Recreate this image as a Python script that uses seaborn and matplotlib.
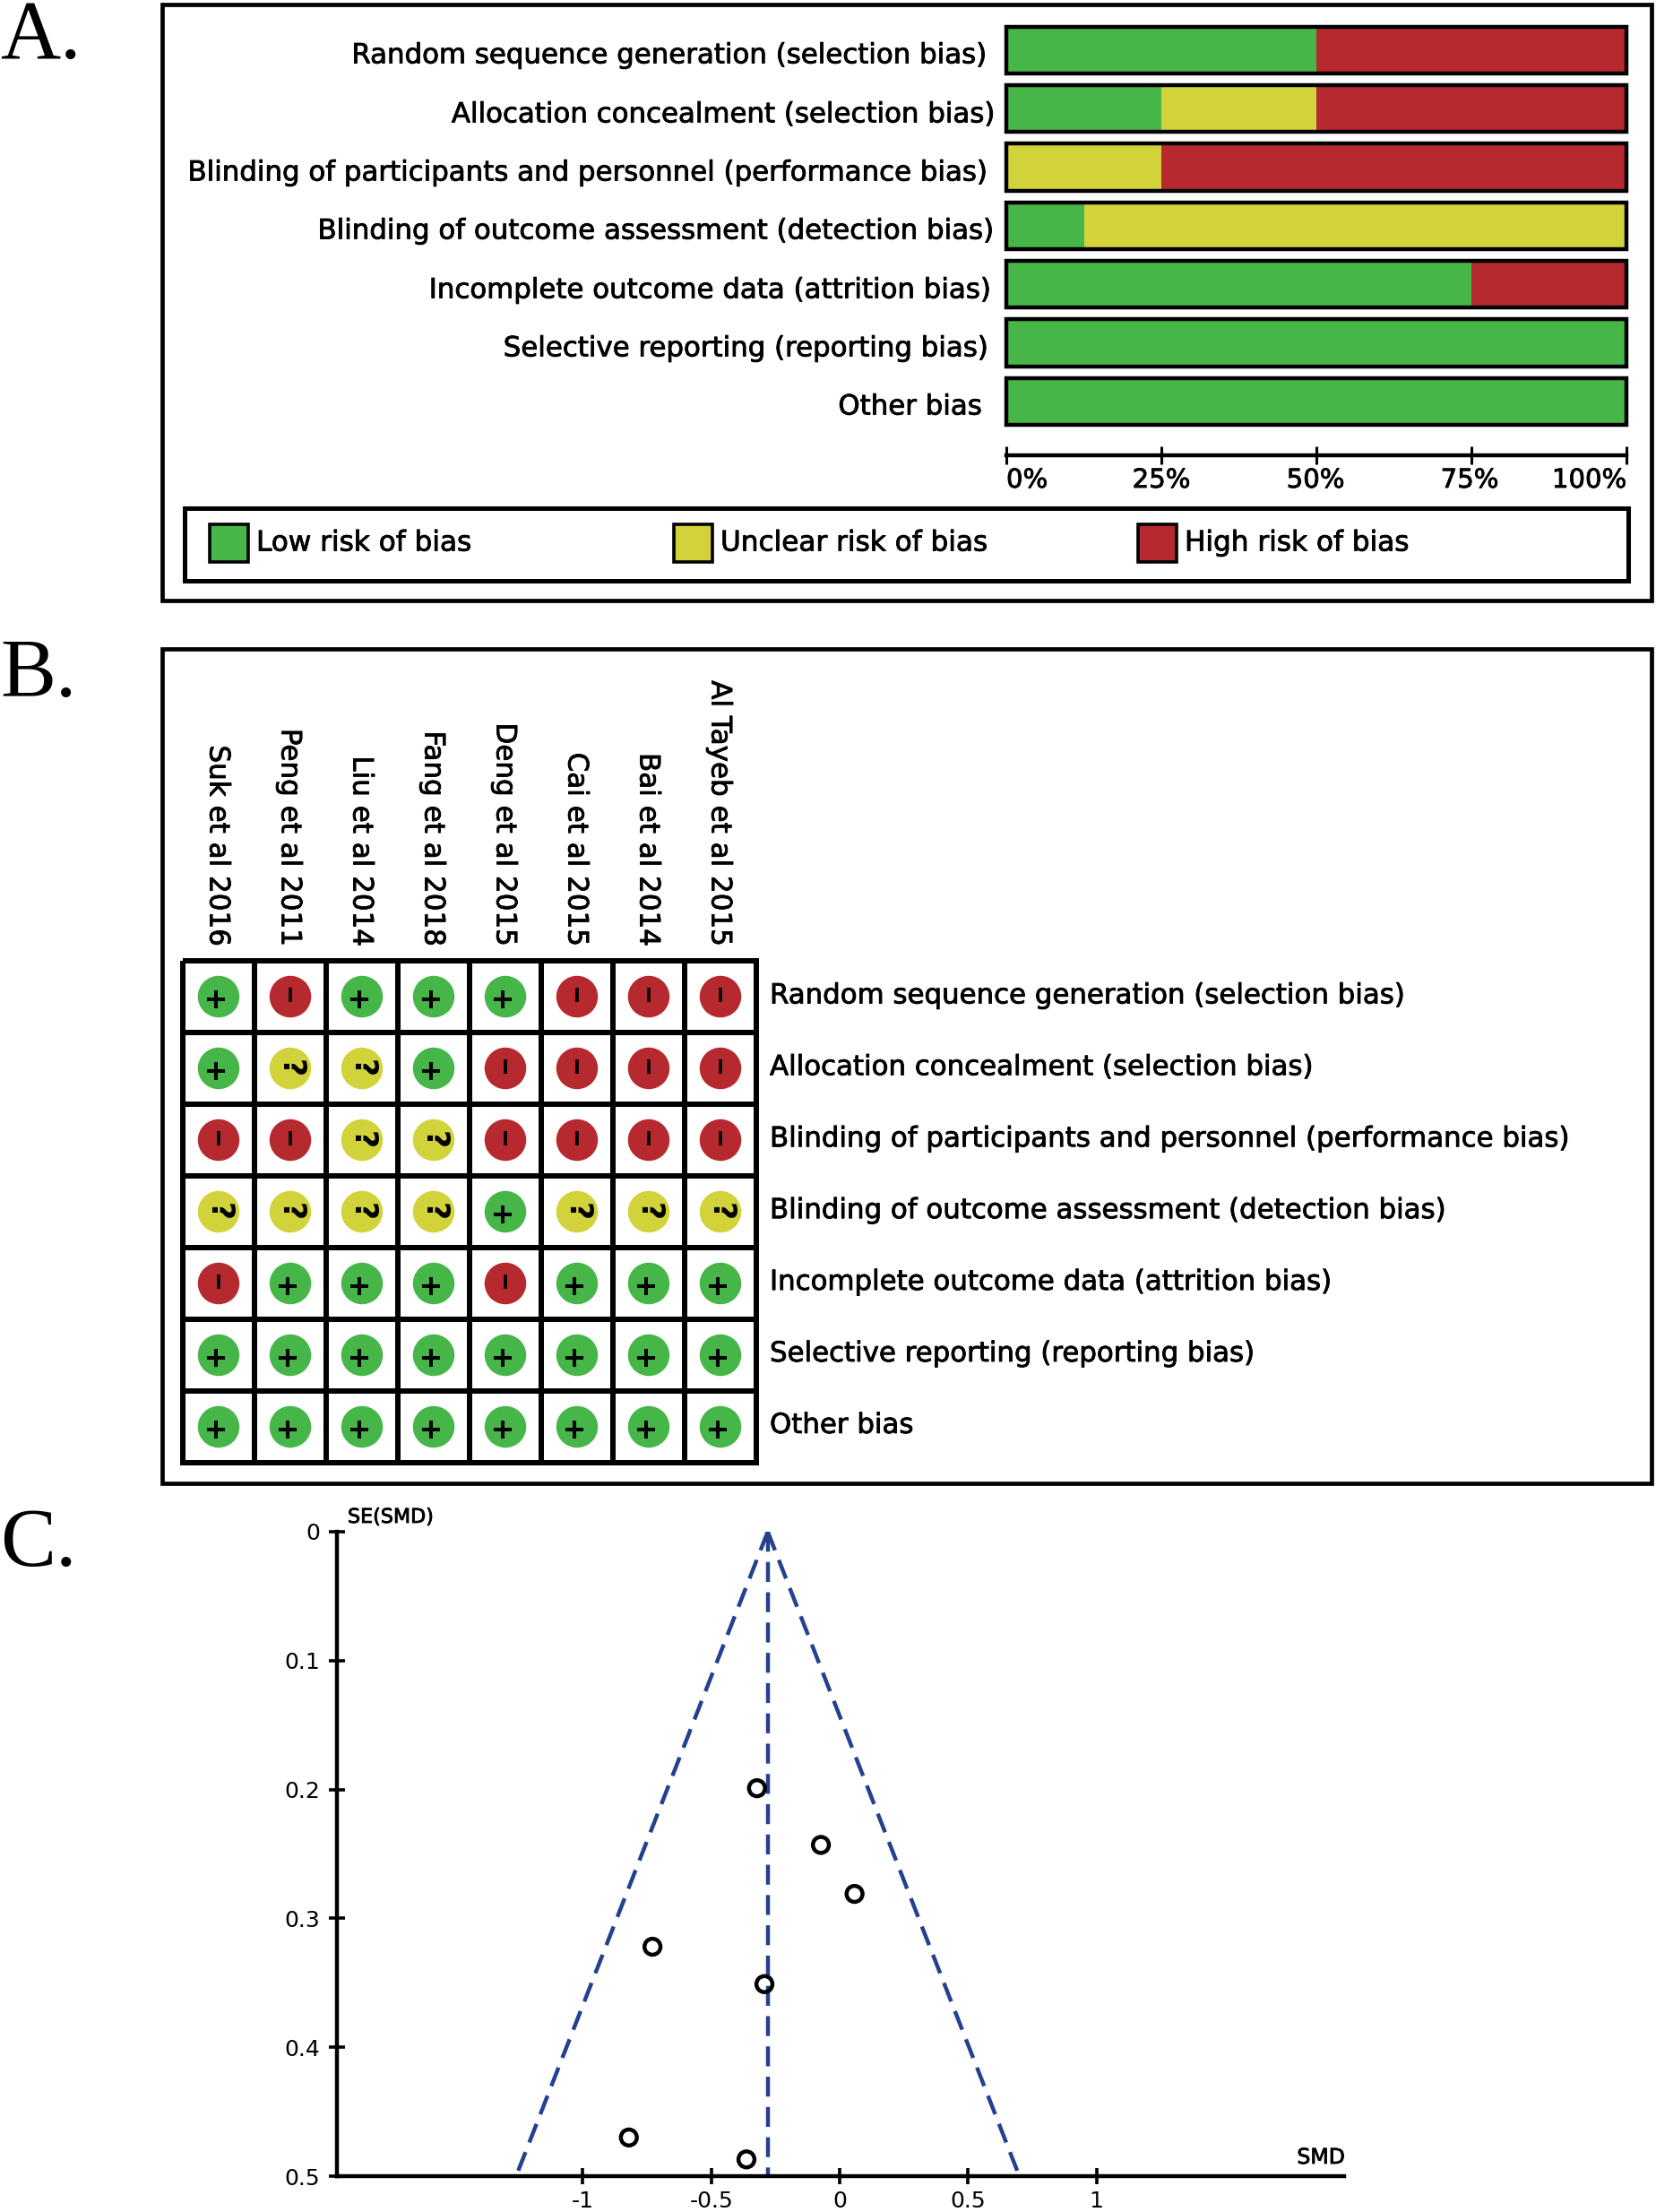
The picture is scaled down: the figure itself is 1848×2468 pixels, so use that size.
import matplotlib
matplotlib.use('Agg')
import matplotlib.pyplot as plt
import matplotlib.patheffects as pe
from matplotlib.patches import Rectangle
import numpy as np
import pandas as pd
import seaborn as sns

sns.set_theme(style='white')
plt.rcParams['font.family'] = ['DejaVu Sans']

W, H = 1848, 2468
GREEN, YELLOW, RED = '#47b649', '#d2d23a', '#b6292f'
BLUE = '#24408e'

domains = ['Random sequence generation (selection bias)',
           'Allocation concealment (selection bias)',
           'Blinding of participants and personnel (performance bias)',
           'Blinding of outcome assessment (detection bias)',
           'Incomplete outcome data (attrition bias)',
           'Selective reporting (reporting bias)',
           'Other bias']
low_pct = [50, 25, 0, 12.5, 75, 100, 100]
unclear_pct = [0, 25, 25, 87.5, 0, 0, 0]
high_pct = [50, 50, 75, 0, 25, 0, 0]
pct_ticks = [0, 25, 50, 75, 100]
legend_names = ['Low risk of bias', 'Unclear risk of bias', 'High risk of bias']

studies = ['Suk et al 2016', 'Peng et al 2011', 'Liu et al 2014', 'Fang et al 2018',
           'Deng et al 2015', 'Cai et al 2015', 'Bai et al 2014', 'Al Tayeb et al 2015']
judgements = [list('+-+++---'),
              list('+??+----'),
              list('--??----'),
              list('????+???'),
              list('-+++-+++'),
              list('++++++++'),
              list('++++++++')]

smd = [-0.322, -0.073, 0.058, -0.729, -0.293, -0.821, -0.363]
se = [0.199, 0.243, 0.281, 0.322, 0.351, 0.470, 0.487]
pooled = -0.28
funnel_half = 0.98
smd_ticks = [-1, -0.5, 0, 0.5, 1]
smd_labels = ['-1', '-0.5', '0', '0.5', '1']
se_ticks = [0, 0.1, 0.2, 0.3, 0.4, 0.5]
se_labels = ['0', '0.1', '0.2', '0.3', '0.4', '0.5']

HEAVY = [pe.withStroke(linewidth=0.6, foreground='black')]


def px_axes(fig, x0, y0, x1, y1):
    return fig.add_axes([x0 / W, 1 - y1 / H, (x1 - x0) / W, (y1 - y0) / H])


def px_text(fig, x, y, s, **kw):
    kw.setdefault('va', 'center')
    kw.setdefault('color', 'black')
    return fig.text(x / W, 1 - y / H, s, path_effects=HEAVY, **kw)


def px_box(fig, x0, y0, x1, y1, lw=3.4, **kw):
    kw.setdefault('fc', 'none')
    fig.add_artist(Rectangle((x0 / W, 1 - y1 / H), (x1 - x0) / W, (y1 - y0) / H,
                             transform=fig.transFigure, ec='black', lw=lw, **kw))


fig = plt.figure(figsize=(W / 100, H / 100), dpi=100, facecolor='white')

# panel frames and letters
px_box(fig, 181, 5, 1843, 670)
px_box(fig, 181, 724, 1843, 1655)
for letter, y in zip(['A.', 'B.', 'C.'], [43, 754, 1724]):
    fig.text(0, 1 - y / H, letter, family='Liberation Serif', fontsize=67, color='black', va='center')

# A: stacked bars, drawn back to front from running totals
ax = px_axes(fig, 1123, 23, 1815, 508)
low = np.array(low_pct)
mid = low + np.array(unclear_pct)
top = mid + np.array(high_pct)
for vals, col in [(top, RED), (mid, YELLOW), (low, GREEN)]:
    sns.barplot(x=vals, y=domains, color=col, saturation=1, width=0.8, ax=ax, linewidth=0)
sns.barplot(x=top, y=domains, fill=False, edgecolor='black', linewidth=3.2, width=0.8, ax=ax)
ax.set_xlim(0, 100)
ax.set_ylim(6.92, -0.5)
for sp in ['top', 'left', 'right']:
    ax.spines[sp].set_visible(False)
ax.spines['bottom'].set_linewidth(3.2)
ax.spines['bottom'].set_color('black')
ax.set_xticks(pct_ticks)
ax.set_xticklabels([])
ax.tick_params(axis='x', direction='inout', length=15, width=2.2, color='black', bottom=True)
ax.set_yticks([])
ax.set_ylabel('')
ax.patch.set_alpha(0)
for bar in ax.patches:
    bar.set_clip_on(False)

a_rights = [1102, 1111, 1103, 1110, 1107, 1104, 1096]
a_rows = [57, 123, 188, 253, 319, 384, 449]
for name, r, y in zip(domains, a_rights, a_rows):
    px_text(fig, r, y + 5, name, ha='right', fontsize=22.2)
pct_x = [1123, 1296, 1468, 1640, 1815]
pct_ha = ['left', 'center', 'center', 'center', 'right']
for t, x, ha in zip(pct_ticks, pct_x, pct_ha):
    px_text(fig, x, 536, f'{t}%', ha=ha, fontsize=21)

# A legend
px_box(fig, 206, 567, 1817, 648, lw=3.6)
for x, name, col in zip([234, 752, 1270], legend_names, [GREEN, YELLOW, RED]):
    px_box(fig, x, 585, x + 43, 627, lw=2.6, fc=col)
    px_text(fig, x + 52, 606, name, fontsize=22.4)

# B: risk of bias grid
ax = px_axes(fig, 204, 1072, 844, 1632)
grid = pd.DataFrame(np.zeros((len(domains), len(studies))), index=domains, columns=studies)
sns.heatmap(grid, cmap=['white'], cbar=False, linewidths=4.3, linecolor='black',
            clip_on=False, xticklabels=False, yticklabels=False, ax=ax)
long_df = pd.DataFrame([(c + 0.5, r + 0.5, v) for r, row in enumerate(judgements)
                        for c, v in enumerate(row)], columns=['col', 'row', 'risk'])
sns.scatterplot(data=long_df, x='col', y='row', hue='risk',
                palette={'+': GREEN, '?': YELLOW, '-': RED}, s=1120, linewidth=0,
                legend=False, ax=ax, zorder=3)
plus = long_df[long_df['risk'] == '+']
minus = long_df[long_df['risk'] == '-']
sns.scatterplot(x=plus['col'] - 0.035, y=plus['row'] + 0.04, marker='+', s=207, color='black',
                linewidth=2.9, ax=ax, zorder=4)
sns.scatterplot(x=minus['col'], y=minus['row'] - 0.03, marker='|', s=117, color='black',
                linewidth=2.6, ax=ax, zorder=4)
for _, p in long_df[long_df['risk'] == '?'].iterrows():
    ax.text(p['col'], p['row'], '?', ha='center', va='center', fontsize=25, rotation=-90,
            fontweight='bold', color='black', zorder=4)
ax.set_xlabel('')
ax.set_ylabel('')
for i, name in enumerate(studies):
    px_text(fig, 243 + i * 80, 1056, name, rotation=-90, ha='center', va='bottom', fontsize=22.3)
for i, name in enumerate(domains):
    px_text(fig, 859, 1111 + i * 79.9, name, fontsize=22.2)

# C: funnel plot
ax = px_axes(fig, 376, 1709, 1500, 2428)
dash = (0, (5, 2.6))
for x_end in [pooled - funnel_half, pooled, pooled + funnel_half]:
    sns.lineplot(x=[pooled, x_end], y=[0, 0.5], color=BLUE, lw=3.2, linestyle=dash,
                 estimator=None, sort=False, ax=ax)
sns.scatterplot(x=smd, y=se, s=165, facecolors='none', edgecolor='black', linewidth=3.2,
                ax=ax, zorder=5)
ax.set_xlim(-1.958, 1.965)
ax.set_ylim(0.5, 0)
for sp in ['top', 'right']:
    ax.spines[sp].set_visible(False)
for sp in ['left', 'bottom']:
    ax.spines[sp].set_linewidth(3.2)
    ax.spines[sp].set_color('black')
ax.set_xticks(smd_ticks)
ax.set_xticklabels(smd_labels, fontsize=18, color='black')
ax.set_yticks(se_ticks)
ax.set_yticklabels(se_labels, fontsize=18, color='black')
ax.tick_params(axis='both', direction='inout', length=13, width=2.6, color='black',
               bottom=True, left=True, pad=7)
ax.tick_params(axis='x', pad=5)
ax.patch.set_alpha(0)
px_text(fig, 388, 1693, 'SE(SMD)', fontsize=16)
px_text(fig, 1501, 2407, 'SMD', ha='right', fontsize=17)

fig.savefig('out.png', dpi=100, facecolor='white')
